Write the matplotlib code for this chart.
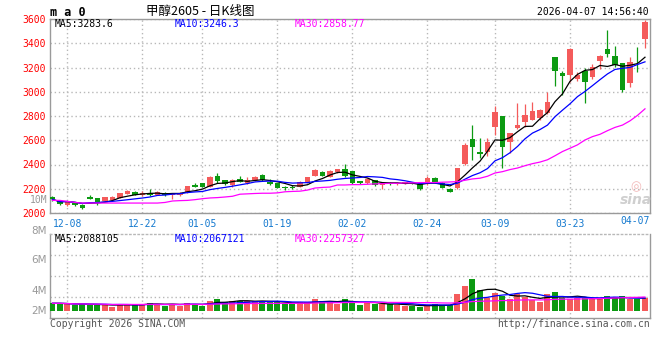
import matplotlib
matplotlib.use("Agg")
import matplotlib.pyplot as plt
import numpy as np
import pandas as pd

# ---------------- data ----------------
opens = [2128, 2101, 2062, 2082, 2065, 2130, 2124, 2099, 2110, 2127,
         2158, 2175, 2150, 2166, 2147, 2166, 2152, 2152, 2166, 2231,
         2245, 2217, 2307, 2270, 2228, 2279, 2251, 2270, 2310, 2256,
         2245, 2214, 2217, 2217, 2251, 2307, 2341, 2301, 2335, 2363,
         2344, 2265, 2245, 2273, 2228, 2251, 2236, 2242, 2251, 2242,
         2237, 2287, 2251, 2200, 2203, 2407, 2611, 2505, 2507, 2706,
         2798, 2589, 2698, 2752, 2771, 2787, 2826, 3288, 3152, 3141,
         3106, 3174, 3119, 3256, 3356, 3296, 3234, 3071, 3370, 3432]
highs = [2142, 2108, 2100, 2090, 2073, 2152, 2126, 2133, 2138, 2166,
         2186, 2178, 2180, 2200, 2178, 2175, 2166, 2175, 2225, 2248,
         2248, 2302, 2330, 2272, 2279, 2302, 2293, 2307, 2318, 2279,
         2248, 2222, 2228, 2262, 2296, 2362, 2350, 2352, 2366, 2406,
         2346, 2268, 2287, 2276, 2254, 2254, 2248, 2259, 2254, 2251,
         2307, 2293, 2254, 2203, 2372, 2575, 2725, 2621, 2621, 2880,
         2800, 2660, 2907, 2902, 2915, 2861, 2997, 3290, 3174, 3364,
         3160, 3192, 3228, 3300, 3509, 3378, 3236, 3288, 3372, 3595]
lows = [2098, 2068, 2058, 2054, 2031, 2114, 2068, 2095, 2102, 2124,
        2153, 2145, 2144, 2144, 2145, 2144, 2116, 2144, 2163, 2211,
        2214, 2214, 2251, 2232, 2217, 2256, 2242, 2265, 2262, 2228,
        2203, 2189, 2200, 2214, 2248, 2304, 2304, 2298, 2332, 2301,
        2236, 2242, 2242, 2225, 2200, 2234, 2234, 2240, 2240, 2186,
        2234, 2249, 2205, 2172, 2200, 2393, 2439, 2453, 2466, 2643,
        2371, 2494, 2695, 2711, 2766, 2766, 2820, 3051, 2970, 3084,
        3092, 2907, 3106, 3187, 3288, 3201, 2997, 3043, 3160, 3364]
closes = [2112, 2075, 2096, 2068, 2045, 2117, 2090, 2130, 2130, 2163,
          2180, 2147, 2166, 2152, 2175, 2150, 2163, 2166, 2222, 2217,
          2217, 2299, 2265, 2237, 2276, 2259, 2270, 2299, 2270, 2242,
          2205, 2203, 2205, 2259, 2293, 2358, 2307, 2349, 2363, 2307,
          2245, 2245, 2284, 2228, 2251, 2236, 2245, 2256, 2242, 2194,
          2287, 2251, 2208, 2175, 2368, 2562, 2548, 2483, 2586, 2834,
          2548, 2657, 2725, 2806, 2842, 2853, 2915, 3174, 3128, 3356,
          3141, 3084, 3207, 3296, 3315, 3223, 3011, 3247, 3365, 3578]
ma30_price = [2104, 2104, 2096, 2087, 2082, 2082, 2082, 2082, 2082, 2082,
              2082, 2082, 2082, 2082, 2082, 2087, 2099, 2102, 2104, 2110,
              2118, 2124, 2127, 2132, 2138, 2155, 2158, 2161, 2163, 2163,
              2166, 2175, 2178, 2180, 2189, 2206, 2211, 2214, 2231, 2231,
              2234, 2234, 2237, 2240, 2242, 2245, 2245, 2248, 2248, 2251,
              2251, 2251, 2254, 2256, 2259, 2270, 2281, 2287, 2303, 2330,
              2341, 2358, 2371, 2390, 2407, 2420, 2439, 2472, 2507, 2534,
              2562, 2602, 2630, 2649, 2679, 2706, 2725, 2760, 2805, 2859]
volumes_m = [1.24, 1.24, 1.12, 0.96, 1.12, 0.96, 1.07, 0.96, 0.67, 1.12,
             1.12, 0.96, 1.12, 1.35, 1.12, 0.84, 1.12, 0.84, 1.35, 1.12,
             0.84, 1.63, 2.02, 1.46, 1.63, 1.63, 1.63, 1.63, 1.63, 1.40,
             1.40, 1.12, 1.12, 1.40, 1.46, 2.02, 1.63, 1.40, 1.12, 1.97,
             1.63, 0.96, 1.24, 1.12, 1.12, 1.12, 0.96, 0.84, 0.79, 0.67,
             0.96, 1.07, 0.96, 0.96, 2.81, 4.16, 5.34, 3.48, 2.08, 2.98,
             2.47, 1.97, 2.81, 2.25, 1.80, 1.52, 2.81, 3.15, 2.19, 1.97,
             2.08, 2.08, 1.97, 2.08, 2.47, 2.08, 2.47, 1.97, 1.97, 2.08]

tick_labels = ['12-08', '12-22', '01-05', '01-19', '02-02', '02-24', '03-09', '03-23']
tick_index = [2, 12, 20, 30, 40, 50, 59, 69]
last_label = '04-07'
price_ticks = [2000, 2200, 2400, 2600, 2800, 3000, 3200, 3400, 3600]
vol_labels = ['8M', '6M', '4M', '2M']

title = '甲醇2605 - 日K线图'
timestamp = '2026-04-07 14:56:40'
price_ma_text = ['MA5:3283.6', 'MA10:3246.3', 'MA30:2858.77']
vol_ma_text = ['MA5:2088105', 'MA10:2067121', 'MA30:2257327']

# ---------------- styling ----------------
RED = '#f45b5b'
GREEN = '#0c9a12'
GRID = '#b8b8b8'
SPINE = '#9a9a9a'
MONO = 'DejaVu Sans Mono'
W, H = 660, 360

n = len(closes)
assert len(opens) == len(highs) == len(lows) == len(ma30_price) == len(volumes_m) == n
x = np.arange(n)
o = np.array(opens, float); c = np.array(closes, float)
h = np.array(highs, float); l = np.array(lows, float)
vol = np.array(volumes_m) * 1e6
up = c >= o
colors = [RED if u else GREEN for u in up]

ma5 = pd.Series(c).rolling(5, min_periods=1).mean()
ma10 = pd.Series(c).rolling(10, min_periods=1).mean()
vma5 = pd.Series(vol).rolling(5, min_periods=1).mean()
vma10 = pd.Series(vol).rolling(10, min_periods=1).mean()
vma30 = pd.Series(vol).rolling(30, min_periods=1).mean()

fig = plt.figure(figsize=(W / 100, H / 100), dpi=100)
fig.patch.set_facecolor('white')


def rect(x0, y0, x1, y1):
    return [x0 / W, 1 - y1 / H, (x1 - x0) / W, (y1 - y0) / H]


def fy(ypx):
    return 1 - ypx / H


axp = fig.add_axes(rect(50, 19, 650, 213))
axv = fig.add_axes(rect(50, 234, 650, 318))
XL = (-0.33, n - 0.33)

# ---------------- price panel ----------------
axp.vlines(x, l, h, colors=colors, linewidth=0.9, zorder=3)
body = np.maximum(np.abs(c - o), 7)
axp.bar(x, body, bottom=np.minimum(o, c), width=0.76, color=colors,
        linewidth=0, zorder=4)
axp.plot(x, ma5, color='black', lw=0.9, zorder=5)
axp.plot(x, ma10, color='#0000ff', lw=0.9, zorder=5)
axp.plot(x, ma30_price, color='#ff00ff', lw=0.9, zorder=5)
axp.set_xlim(*XL)
axp.set_ylim(price_ticks[0], price_ticks[-1])
axp.set_yticks(price_ticks)
axp.set_yticklabels([str(t) for t in price_ticks], color='red',
                    fontsize=7, family=MONO)
axp.set_xticks(tick_index)
axp.set_xticklabels(tick_labels, color='#1479cf', fontsize=7, family=MONO)
axp.tick_params(length=0, pad=3)
axp.tick_params(axis='x', pad=4)
axp.grid(True, color=GRID, linestyle=(0, (1, 2)), linewidth=1)
axp.set_axisbelow(True)
for s in axp.spines.values():
    s.set_color(SPINE)
    s.set_linewidth(1)
fig.text(650 / W, fy(221.5), last_label, color='#1479cf', fontsize=7,
         family=MONO, ha='right', va='center')
fig.text(47 / W, fy(200), '10M', color='#999999', fontsize=7, family=MONO,
         ha='right', va='center')

# watermark
fig.text(636 / W, fy(187), '◎', color='#f2b8b8', fontsize=9, ha='center',
         va='center')
fig.text(636 / W, fy(200), 'sina', color='#cfcfcf', fontsize=10,
         style='italic', weight='bold', ha='center', va='center')

# ---------------- volume panel ----------------
VMIN, VMAX = -1.23e6, 12.9e6
axv.bar(x, vol, width=0.8, color=colors, linewidth=0, zorder=3)
axv.plot(x, vma5, color='black', lw=0.9, zorder=4)
axv.plot(x, vma10, color='#0000ff', lw=0.9, zorder=4)
axv.plot(x, vma30, color='#ff00ff', lw=0.9, zorder=4)
axv.set_xlim(*XL)
axv.set_ylim(VMIN, VMAX)
axv.set_xticks(tick_index)
axv.set_xticklabels([])
axv.set_yticks([VMIN + f * (VMAX - VMIN) for f in (0.25, 0.5, 0.75)])
axv.set_yticklabels([])
axv.tick_params(length=0)
axv.grid(True, color=GRID, linestyle=(0, (1, 2)), linewidth=1)
axv.set_axisbelow(True)
for s in axv.spines.values():
    s.set_color(SPINE)
    s.set_linewidth(1)
axv.spines['top'].set_linestyle((0, (1, 2)))
axv.spines['top'].set_color(GRID)
for lab, ypx in zip(vol_labels, [231, 260, 290.5, 311]):
    fig.text(47 / W, fy(ypx), lab, color='#999999', fontsize=7.5,
             ha='right', va='center')

# ---------------- header / legends / footer ----------------
fig.text(50 / W, fy(12), 'm a 0', fontsize=8.5, family=MONO, weight='bold',
         ha='left', va='center')
fig.text(200 / W, fy(11), title, fontsize=9,
         family=['Noto Sans CJK SC', 'DejaVu Sans'], ha='center', va='center')
fig.text(649 / W, fy(12), timestamp, fontsize=7, family=MONO, ha='right',
         va='center')
for txt, xp, col in zip(price_ma_text, [55, 175, 295],
                        ['black', '#0000ff', '#ff00ff']):
    fig.text(xp / W, fy(24), txt, color=col, fontsize=7, family=MONO,
             ha='left', va='center')
for txt, xp, col in zip(vol_ma_text, [55, 175, 295],
                        ['black', '#0000ff', '#ff00ff']):
    fig.text(xp / W, fy(239), txt, color=col, fontsize=7, family=MONO,
             ha='left', va='center')
fig.text(50 / W, fy(324), 'Copyright 2026 SINA.COM', color='#555555',
         fontsize=7, family=MONO, ha='left', va='center')
fig.text(650 / W, fy(324), 'http://finance.sina.com.cn', color='#555555',
         fontsize=7, family=MONO, ha='right', va='center')

fig.savefig('out.png', dpi=100, facecolor='white')
